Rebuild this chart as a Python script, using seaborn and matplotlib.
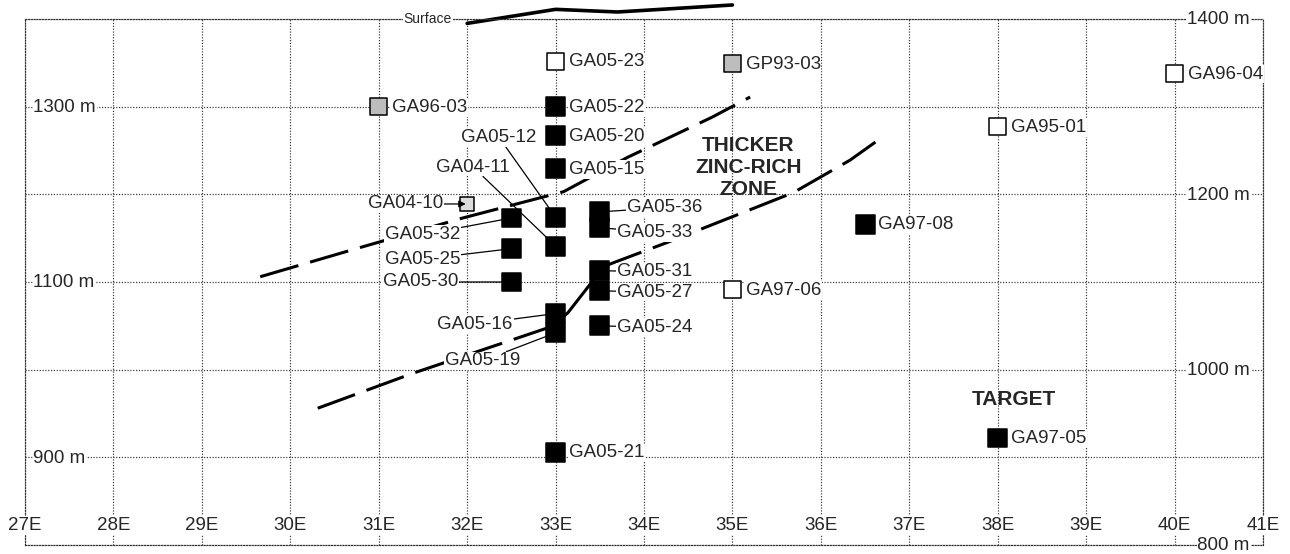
import matplotlib
matplotlib.use("Agg")
import matplotlib.pyplot as plt
import pandas as pd
import seaborn as sns

# ---------------- data ----------------
holes = ["GA05-23", "GP93-03", "GA96-03", "GA05-22", "GA05-20", "GA05-15", "GA96-04",
         "GA95-01", "GA04-10", "GA05-32", "GA05-25", "GA05-30", "GA05-12", "GA04-11",
         "GA05-16", "GA05-19", "GA05-36", "GA05-33", "GA05-31", "GA05-27", "GA05-24",
         "GA05-21", "GA97-08", "GA97-05", "GA97-06"]
easting = [33.0, 35.0, 31.0, 33.0, 33.0, 33.0, 40.0,
           38.0, 32.0, 32.5, 32.5, 32.5, 33.0, 33.0,
           33.0, 33.0, 33.5, 33.5, 33.5, 33.5, 33.5,
           33.0, 36.5, 38.0, 35.0]
elevation = [1352, 1349, 1300, 1300, 1267, 1229, 1338,
             1277, 1189, 1173, 1138, 1100, 1174, 1141,
             1064, 1042, 1180, 1162, 1113, 1090, 1050,
             906, 1166, 922, 1091]
kind = ["open", "grey", "grey", "black", "black", "black", "open",
        "open", "light", "black", "black", "black", "black", "black",
        "black", "black", "black", "black", "black", "black", "black",
        "black", "black", "black", "open"]

surface_e = [32.0, 33.0, 33.7, 35.0]
surface_elev = [1395, 1411, 1408, 1416]

upper_e = [29.66, 30.71, 31.95, 33.09, 33.81, 34.77, 35.2]
upper_elev = [1106, 1137, 1173, 1203, 1242, 1288, 1311]

lower_left_e = [30.31, 31.39, 32.45, 32.95]
lower_left_elev = [956, 996, 1032, 1049]
lower_mid_e = [32.95, 33.14, 33.55]
lower_mid_elev = [1049, 1065, 1118]
lower_right_e = [33.55, 34.26, 35.69, 36.33, 36.72]
lower_right_elev = [1118, 1145, 1202, 1239, 1267]

x_ticks = list(range(27, 42))
x_tick_labels = [f"{v}E" for v in x_ticks]
left_y_ticks = [1300, 1100, 900]
right_y_ticks = [1400, 1200, 1000, 800]
y_unit = "m"

# ---------------- layout (label placement) ----------------
right_labels = ["GA05-23", "GP93-03", "GA96-03", "GA05-22", "GA05-20", "GA05-15",
                "GA96-04", "GA95-01", "GA05-21", "GA97-08", "GA97-05", "GA97-06"]
dash_labels = {"GA05-36": (19.5, 3), "GA05-33": (12.5, -3.5), "GA05-31": (12.5, -1),
               "GA05-27": (12.5, -1), "GA05-24": (12.5, -1)}
leader_labels = {"GA05-12": (32.36, 1265), "GA04-11": (32.07, 1231),
                 "GA05-32": (31.50, 1154), "GA05-25": (31.50, 1126),
                 "GA05-30": (31.47, 1100), "GA05-16": (32.09, 1052),
                 "GA05-19": (32.17, 1010)}
arrow_labels = {"GA04-10": (31.30, 1189)}

# ---------------- style ----------------
sns.set_theme(style="white")
plt.rcParams["font.family"] = ["Liberation Sans", "DejaVu Sans"]

fig = plt.figure(figsize=(12.9, 5.54), dpi=100)
ax = fig.add_axes([25 / 1290, 9 / 554, 1238 / 1290, 526 / 554])
ax.set_xlim(27, 41)
ax.set_ylim(800, 1400)
ax.set_xticks(x_ticks)
ax.set_yticks(range(800, 1401, 100))
ax.tick_params(length=0, labelbottom=False, labelleft=False)
grid_ls = (0, (1, 1.4))
ax.grid(True, linestyle=grid_ls, color="#333333", linewidth=0.85)
for sp in ax.spines.values():
    sp.set_visible(True)
    sp.set_linestyle(grid_ls)
    sp.set_color("#333333")
    sp.set_linewidth(0.85)

white = dict(facecolor="white", edgecolor="none", pad=0.6)
FS = 13.5

# tick labels as text inside the frame
for v, lab in zip(x_ticks, x_tick_labels):
    ax.annotate(lab, xy=(v, 800), xytext=(0, 14), textcoords="offset points",
                ha="center", va="center", fontsize=FS, bbox=white, zorder=3)
for v in left_y_ticks:
    ax.annotate(f"{v} {y_unit}", xy=(27, v), xytext=(6, -0.5), textcoords="offset points",
                ha="left", va="center", fontsize=FS, bbox=white, zorder=3)
for v in right_y_ticks:
    ax.annotate(f"{v} {y_unit}", xy=(41, v), xytext=(-9.5, -0.5), textcoords="offset points",
                ha="right", va="center", fontsize=FS, bbox=white, zorder=3,
                annotation_clip=False)

# zone boundary lines
line_kw = dict(color="black", linewidth=2.2, estimator=None, sort=False, ax=ax)
sns.lineplot(x=upper_e, y=upper_elev, linestyle=(0, (13, 4)), **line_kw)
sns.lineplot(x=lower_left_e, y=lower_left_elev, linestyle=(0, (13, 4)), **line_kw)
sns.lineplot(x=lower_mid_e, y=lower_mid_elev, linestyle="-", **line_kw)
sns.lineplot(x=lower_right_e, y=lower_right_elev, linestyle=(0, (13, 4)), **line_kw)

# surface
sns.lineplot(x=surface_e, y=surface_elev, color="black", linewidth=2.6,
             estimator=None, sort=False, ax=ax, clip_on=False)
ax.annotate("Surface", xy=(32.0, 1400), xytext=(-11, 0), textcoords="offset points",
            ha="right", va="center", fontsize=10, bbox=white, annotation_clip=False)

# holes
df = pd.DataFrame({"hole": holes, "e": easting, "elev": elevation, "kind": kind})
palette = {"black": "black", "open": "white", "grey": "#bdbdbd", "light": "#dcdcdc"}
sizes = {"black": 185, "open": 150, "grey": 150, "light": 110}
sns.scatterplot(data=df, x="e", y="elev", hue="kind", palette=palette,
                size="kind", sizes=sizes, marker="s", edgecolor="black",
                linewidth=1.1, legend=False, ax=ax, zorder=4, clip_on=False)
ax.set_xlabel("")
ax.set_ylabel("")

pos = {h: (e, z) for h, e, z in zip(holes, easting, elevation)}

for h in right_labels:
    ax.annotate(h, xy=pos[h], xytext=(9.5, -0.5), textcoords="offset points",
                ha="left", va="center", fontsize=FS, bbox=white, zorder=3)

for h, off in dash_labels.items():
    ax.annotate(h, xy=pos[h], xytext=off, textcoords="offset points",
                ha="left", va="center", fontsize=FS, bbox=white, zorder=3,
                arrowprops=dict(arrowstyle="-", color="black", lw=0.9,
                                shrinkA=0, shrinkB=6.5))

for h, xy in leader_labels.items():
    ax.annotate(h, xy=pos[h], xytext=xy, textcoords="data",
                ha="center", va="center", fontsize=FS, bbox=white, zorder=3,
                arrowprops=dict(arrowstyle="-", color="black", lw=0.9,
                                shrinkA=0, shrinkB=6.5))

for h, xy in arrow_labels.items():
    ax.annotate(h, xy=pos[h], xytext=xy, textcoords="data",
                ha="center", va="center", fontsize=FS, bbox=white, zorder=5,
                arrowprops=dict(arrowstyle="-|>", color="black", lw=0.9,
                                mutation_scale=10, shrinkA=0, shrinkB=1))

ax.text(35.18, 1231, "THICKER\nZINC-RICH\nZONE", ha="center", va="center",
        fontsize=15, fontweight="bold", linespacing=1.2, zorder=3)
ax.text(38.18, 966, "TARGET", ha="center", va="center",
        fontsize=15, fontweight="bold", zorder=3)

fig.savefig("out.png", dpi=100)
